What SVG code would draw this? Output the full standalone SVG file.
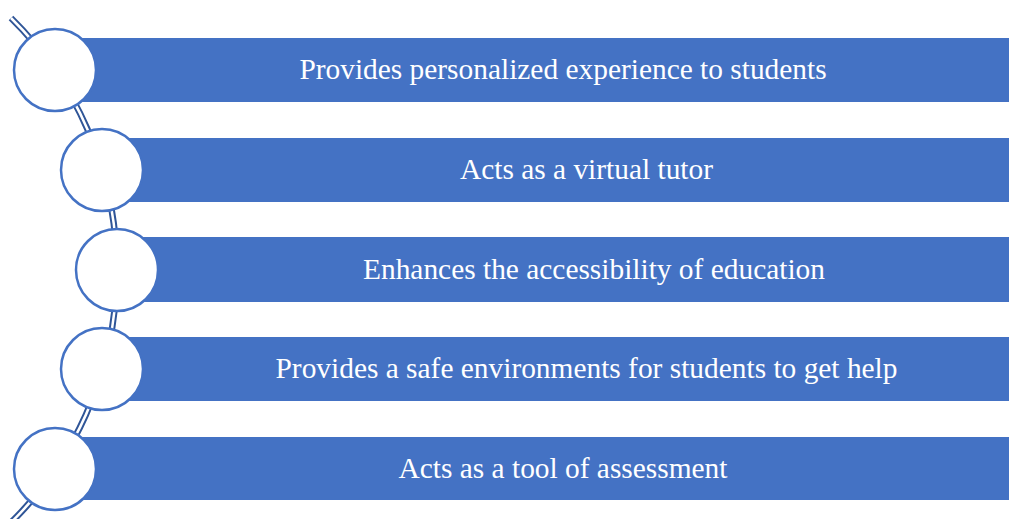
<svg xmlns="http://www.w3.org/2000/svg" width="1009" height="519" viewBox="0 0 1009 519">
<style>
.bar{fill:#4472C4}
.circ{fill:#FFFFFF;stroke:#4472C4;stroke-width:2.5}
.lbl{font-family:"Liberation Serif","Times New Roman",serif;font-size:29.4px;fill:#FFFFFF;text-anchor:middle}
.lineo{fill:none;stroke:#2F5597;stroke-width:6.5}
.linei{fill:none;stroke:#FFFFFF;stroke-width:2.5}
</style>
<rect width="1009" height="519" fill="#FFFFFF"/>
<g id="connectors">
<path class="lineo" d="M 11 18 A 353.6 353.6 0 0 1 8.4 525"/>
<path class="linei" d="M 11 18 A 353.6 353.6 0 0 1 8.4 525"/>
</g>
<g id="node1">
<rect class="bar" x="55" y="38" width="954" height="64"/>
<circle class="circ" cx="55" cy="70" r="41"/>
<text class="lbl" x="563" y="79">Provides personalized experience to students</text>
</g>
<g id="node2">
<rect class="bar" x="102" y="138" width="907" height="64"/>
<circle class="circ" cx="102" cy="170" r="41"/>
<text class="lbl" x="586.5" y="179">Acts as a virtual tutor</text>
</g>
<g id="node3">
<rect class="bar" x="117" y="237" width="892" height="65"/>
<circle class="circ" cx="117" cy="270" r="41"/>
<text class="lbl" x="594" y="279">Enhances the accessibility of education</text>
</g>
<g id="node4">
<rect class="bar" x="102" y="337" width="907" height="64"/>
<circle class="circ" cx="102" cy="369" r="41"/>
<text class="lbl" x="586.5" y="378">Provides a safe environments for students to get help</text>
</g>
<g id="node5">
<rect class="bar" x="55" y="437" width="954" height="63"/>
<circle class="circ" cx="55" cy="469" r="41"/>
<text class="lbl" x="563" y="478">Acts as a tool of assessment</text>
</g>
</svg>
